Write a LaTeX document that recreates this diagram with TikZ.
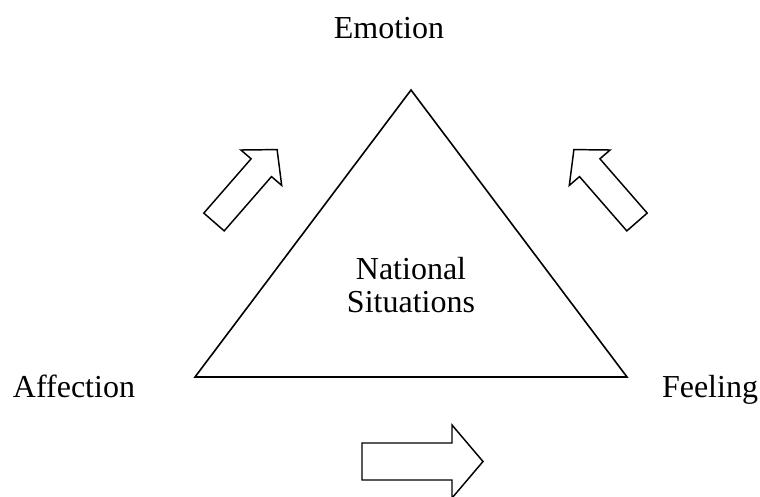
\documentclass[tikz,border=0pt]{standalone}
\usepackage{fontspec}
\setmainfont{Liberation Serif}
\usetikzlibrary{positioning}

\begin{document}
\begin{tikzpicture}[x=0.75pt,y=-0.75pt,
    word/.style={anchor=base,inner sep=0pt,font=\fontsize{24}{25}\selectfont},
    blockarrow/.style={draw,line width=1.1pt,line join=miter}]
  \useasboundingbox (0,0) rectangle (760,496);
  % corners of the triangle
  \coordinate (top) at (411,90);
  \coordinate (left) at (195,377);
  \coordinate (right) at (627,377);
  \draw[line width=1.2pt] (top) -- (left) -- (right) -- cycle;
  \node[word] (emotion) at (389,38) {Emotion};
  \node[word] (affection) at (74,397) {Affection};
  \node[word] (feeling) at (710,397) {Feeling};
  \node[word] (national) at (411,279) {National};
  \node[word] (situations) at (411,312) {Situations};
  % block arrows
  \draw[blockarrow] (203.8,213.1) -- (251.1,158.8) -- (240.9,150) -- (277.1,149.6)
    -- (281.7,185.4) -- (271.5,176.6) -- (224.2,230.9) -- cycle;
  \draw[blockarrow] (647.2,213.1) -- (599.9,158.8) -- (610.1,150) -- (573.9,149.6)
    -- (569.3,185.4) -- (579.5,176.6) -- (626.8,230.9) -- cycle;
  \draw[blockarrow] (362,443) -- (452,443) -- (452,425) -- (483,461.5)
    -- (452,498) -- (452,480) -- (362,480) -- cycle;
\end{tikzpicture}
\end{document}
